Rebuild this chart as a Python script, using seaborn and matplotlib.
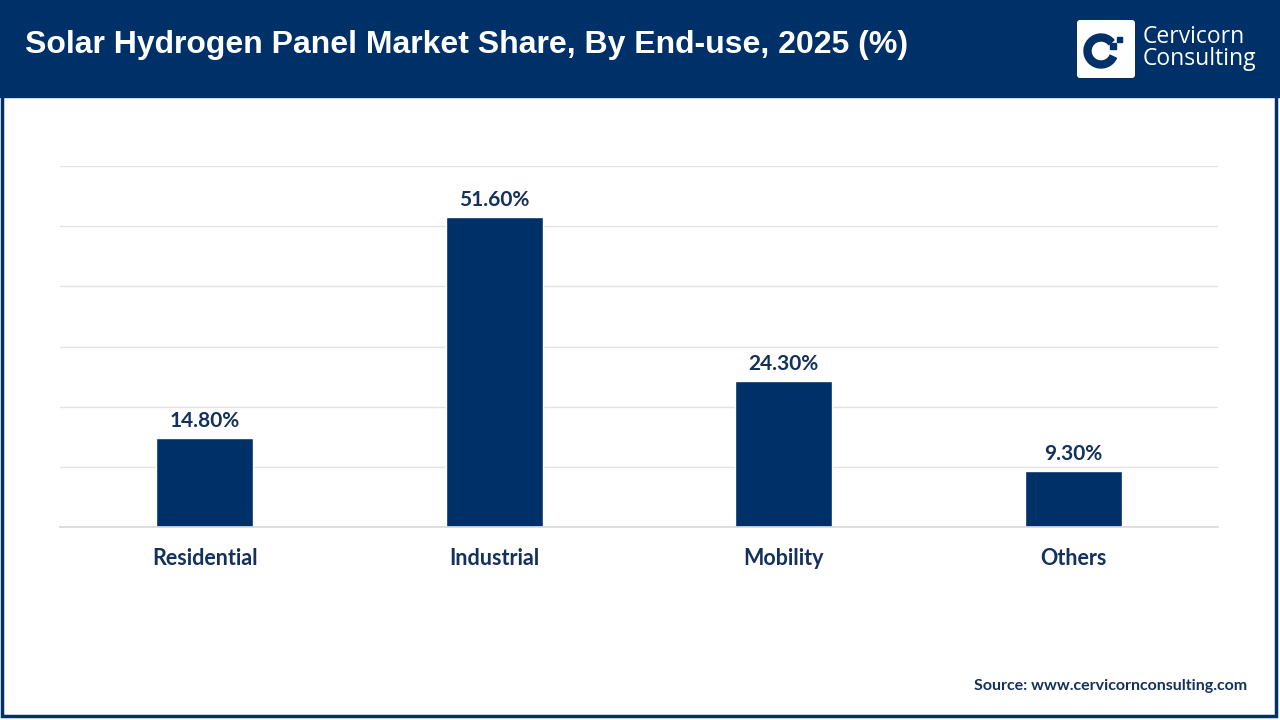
import matplotlib
matplotlib.use('Agg')
import matplotlib.pyplot as plt
import seaborn as sns
import pandas as pd
from matplotlib.patches import Rectangle, FancyBboxPatch, Wedge

categories = ['Residential', 'Industrial', 'Mobility', 'Others']
shares = [14.8, 51.6, 24.3, 9.3]
value_labels = ['14.80%', '51.60%', '24.30%', '9.30%']

NAVY = '#003068'
TEXT = '#13315c'

sns.set_theme(style='white')
plt.rcParams['font.family'] = ['Lato', 'DejaVu Sans']

df = pd.DataFrame({'end_use': categories, 'share': shares})

fig = plt.figure(figsize=(12.8, 7.2), dpi=100)

# header band and frame
fig.patches.append(Rectangle((0, 1 - 97 / 720), 1, 97 / 720, transform=fig.transFigure,
                             color=NAVY, zorder=0))
fig.patches.append(Rectangle((2 / 1280, 4 / 720), 1274 / 1280, 0.9, transform=fig.transFigure,
                             fill=False, edgecolor=NAVY, linewidth=2.5, zorder=0))
fig.text(25 / 1280, 1 - 45 / 720, 'Solar Hydrogen Panel Market Share, By End-use, 2025 (%)',
         color='white', fontsize=23, fontweight='bold', family='Liberation Sans', va='center')

# logo
lax = fig.add_axes([1077 / 1280, 1 - 78 / 720, 58 / 1280, 58 / 720], zorder=3)
lax.set_xlim(0, 58)
lax.set_ylim(0, 58)
lax.axis('off')
lax.add_patch(FancyBboxPatch((0, 0), 58, 58, boxstyle='round,pad=0,rounding_size=3',
                             facecolor='white', edgecolor='none'))
lax.add_patch(Wedge((24, 27), 17, 40, 335, width=7, color=NAVY))
lax.add_patch(Rectangle((33, 29), 6, 6, color=NAVY))
lax.add_patch(Rectangle((40, 36), 5, 5, color=NAVY))
fig.text(1143 / 1280, 1 - 37 / 720, 'Cervicorn', color='white', fontsize=16.5, va='center',
         family='Open Sans')
fig.text(1143 / 1280, 1 - 59 / 720, 'Consulting', color='white', fontsize=16.5, va='center',
         family='Open Sans')

ax = fig.add_axes([60 / 1280, 193 / 720, 1158 / 1280, 361 / 720])
sns.barplot(data=df, x='end_use', y='share', color=NAVY, saturation=1, width=0.335, ax=ax)
ax.set_ylim(0, 60)
ax.set_yticks(range(0, 61, 10))
ax.set_yticklabels([])
ax.tick_params(left=False, bottom=False)
ax.yaxis.grid(True, color='#e3e3e3', linewidth=1)
ax.set_axisbelow(True)
for side in ['left', 'right', 'top']:
    ax.spines[side].set_visible(False)
ax.spines['bottom'].set_color('#d9d9d9')
ax.set_xlabel('')
ax.set_ylabel('')
for lbl in ax.get_xticklabels():
    lbl.set_fontsize(15.5)
    lbl.set_fontweight('bold')
    lbl.set_color(TEXT)
ax.tick_params(axis='x', pad=9)

for i, (v, t) in enumerate(zip(shares, value_labels)):
    ax.annotate(t, (i, v), xytext=(0, 5), textcoords='offset points', ha='center', va='bottom',
                fontsize=15, fontweight='bold', color=TEXT)

fig.text(1247 / 1280, 1 - 686 / 720, 'Source: www.cervicornconsulting.com', ha='right',
         va='center', fontsize=11.5, fontweight='bold', color=TEXT)

fig.savefig('out.png', dpi=100)
